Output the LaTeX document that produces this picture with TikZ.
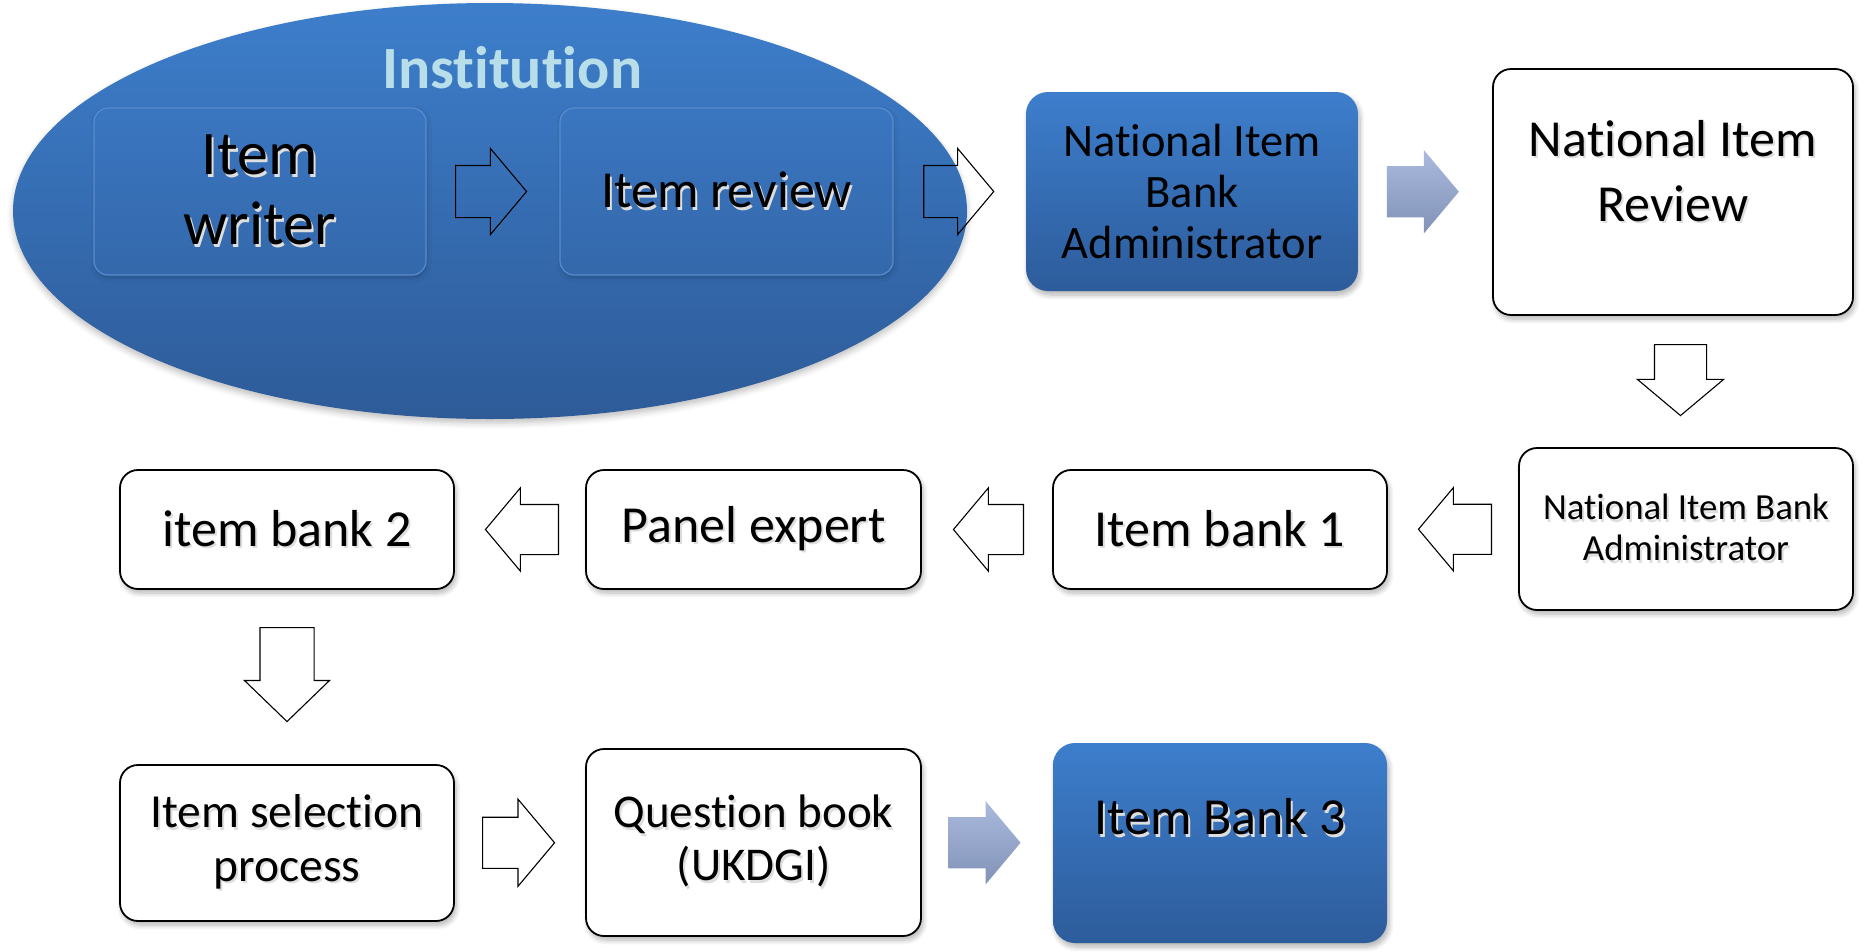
\documentclass[tikz,border=0pt]{standalone}
\usepackage{fontspec}
\setmainfont{Carlito}[Ligatures={NoCommon}]
\usetikzlibrary{shapes.arrows,shapes.geometric,shadows.blur,calc}

\definecolor{ovalTop}{RGB}{61,126,203}
\definecolor{ovalBot}{RGB}{46,91,152}
\definecolor{innerTop}{RGB}{58,118,192}
\definecolor{innerBot}{RGB}{52,104,171}
\definecolor{innerLine}{RGB}{88,140,206}
\definecolor{boxTop}{RGB}{61,126,204}
\definecolor{boxBot}{RGB}{45,92,155}
\definecolor{arrTop}{RGB}{170,186,222}
\definecolor{arrBot}{RGB}{128,146,182}
\definecolor{instText}{RGB}{183,222,233}

% a line of text with a faint offset shadow behind it
\newcommand\tsh[1]{\leavevmode\rlap{\kern2pt\raisebox{-2.5pt}{\textcolor{black!13}{#1}}}#1}

\begin{document}
\begin{tikzpicture}[x=1pt,y=-1pt,
  softshadow/.style={blur shadow={shadow xshift=2pt, shadow yshift=-4pt,
      shadow blur radius=5pt, shadow blur steps=8, shadow opacity=30}},
  whitebox/.style={draw=black, line width=1.8pt, fill=white, rounded corners=18pt,
      inner sep=0pt, align=center, softshadow},
  bluebox/.style={draw=none, top color=boxTop, bottom color=boxBot, rounded corners=22pt,
      inner sep=0pt, align=center, softshadow},
  innerbox/.style={draw=innerLine, line width=1.2pt, top color=innerTop, bottom color=innerBot,
      rounded corners=14pt, inner sep=0pt, align=center,
      blur shadow={shadow xshift=1pt, shadow yshift=-3pt, shadow blur radius=4pt,
      shadow opacity=20}},
  lbl/.style={inner sep=0pt, align=center},
  blockarrow/.style={single arrow, draw=black, line width=1.1pt, fill=white,
      inner xsep=0pt, inner ysep=25.5pt, anchor=tail,
      minimum height=72pt, minimum width=85pt, single arrow head extend=17pt,
      single arrow tip angle=100},
  shadearrow/.style={single arrow, draw=none, top color=arrTop, bottom color=arrBot,
      inner xsep=0pt, inner ysep=25.5pt, anchor=tail, minimum height=72pt, minimum width=83pt,
      single arrow head extend=16pt, single arrow tip angle=100},
]
\useasboundingbox (0,0) rectangle (1865,951);

% institution oval with its two inner steps
\node[ellipse, draw=none, top color=ovalTop, bottom color=ovalBot,
      minimum width=954pt, minimum height=416pt, inner sep=0pt,
      blur shadow={shadow xshift=0pt, shadow yshift=-4pt, shadow blur radius=6pt,
      shadow opacity=25}] (inst) at (490,211) {};
\node[lbl, font=\fontsize{60}{70}\bfseries\selectfont, text=instText, anchor=base]
      (instlbl) at (512,88) {Institution};

\node[innerbox, minimum width=332pt, minimum height=167pt,
      font=\fontsize{62}{70}\selectfont] (wr) at (260,191.5) {\tsh{Item}\\\tsh{writer}};
\node[innerbox, minimum width=333pt, minimum height=167pt,
      font=\fontsize{52}{62}\selectfont] (rv) at (726.5,191.5) {\tsh{Item review}};

% top row
\node[bluebox, minimum width=332pt, minimum height=199pt,
      font=\fontsize{46.5}{51}\selectfont] (niba) at (1192,191.5)
      {National Item\\Bank\\Administrator};
\node[whitebox, minimum width=360pt, minimum height=246pt] (nir) at (1673,192) {};
\node[lbl, font=\fontsize{52}{65}\selectfont] (nirlbl) at (1673,172)
      {\tsh{National Item}\\\tsh{Review}};

% middle row
\node[whitebox, minimum width=334pt, minimum height=162pt,
      font=\fontsize{36.8}{41}\selectfont] (niba2) at (1686,529)
      {\tsh{National Item Bank}\\\tsh{Administrator}};
\node[whitebox, minimum width=334pt, minimum height=119pt,
      font=\fontsize{52}{62}\selectfont] (ib1) at (1220,529.5) {\tsh{Item bank 1}};
\node[whitebox, minimum width=335pt, minimum height=119pt,
      font=\fontsize{52}{62}\selectfont] (pe) at (753.5,529.5) {\tsh{Panel expert}};
\node[whitebox, minimum width=334pt, minimum height=119pt,
      font=\fontsize{52}{62}\selectfont] (ib2) at (287,529.5) {\tsh{item bank 2}};

% bottom row
\node[whitebox, minimum width=334pt, minimum height=156pt,
      font=\fontsize{47.5}{53.5}\selectfont] (isp) at (287,843)
      {\tsh{Item selection}\\\tsh{process}};
\node[whitebox, minimum width=335pt, minimum height=187pt,
      font=\fontsize{47}{53}\selectfont] (qb) at (753.5,842.5)
      {\tsh{Question book}\\\tsh{(UKDGI)}};
\node[bluebox, minimum width=334pt, minimum height=200pt] (ib3) at (1220,843) {};
\node[lbl, font=\fontsize{52}{62}\selectfont] (ib3lbl) at (1220,818) {\tsh{Item Bank 3}};

% block arrows between the steps (placed by their tails)
\node[blockarrow, fill=none, minimum height=71pt]
      (a1) at ($(wr.east)!0.5!(rv.west)+(-38,0)$) {};
\node[blockarrow, fill=none, minimum height=70pt]
      (a2) at ($(rv.east)!0.5!(niba.west)+(-36.5,0)$) {};
\node[shadearrow] (g1) at ($(niba.east)!0.5!(nir.west)+(-38.5,0)$) {};
\node[blockarrow, rotate=-90, minimum height=71pt, minimum width=84pt]
      (d1) at ($(nir.south)!0.5!(niba2.north)+(1,-37.5)$) {};
\node[blockarrow, rotate=180, minimum height=73pt, minimum width=82pt,
      inner ysep=24.5pt, single arrow head extend=16.5pt]
      (l1) at ($(niba2.west)!0.5!(ib1.east)+(39,0)$) {};
\node[blockarrow, rotate=180, minimum height=70pt, minimum width=82pt,
      inner ysep=24.5pt, single arrow head extend=16.5pt]
      (l2) at ($(ib1.west)!0.5!(pe.east)+(37,0)$) {};
\node[blockarrow, rotate=180, minimum height=73pt, minimum width=82pt,
      inner ysep=24.5pt, single arrow head extend=16.5pt]
      (l3) at ($(pe.west)!0.5!(ib2.east)+(39,0)$) {};
\node[blockarrow, rotate=-90, minimum height=94pt, minimum width=84pt,
      inner ysep=26.5pt, single arrow head extend=15.5pt, single arrow tip angle=92]
      (d2) at ($(ib2.south)!0.5!(isp.north)+(0,-50)$) {};
\node[blockarrow, minimum height=72pt, minimum width=86pt, inner ysep=25pt,
      single arrow head extend=18pt]
      (r1) at ($(isp.east)!0.5!(qb.west)+(-38,0)$) {};
\node[shadearrow] (g2) at ($(qb.east)!0.5!(ib3.west)+(-39,0)$) {};
\end{tikzpicture}
\end{document}
